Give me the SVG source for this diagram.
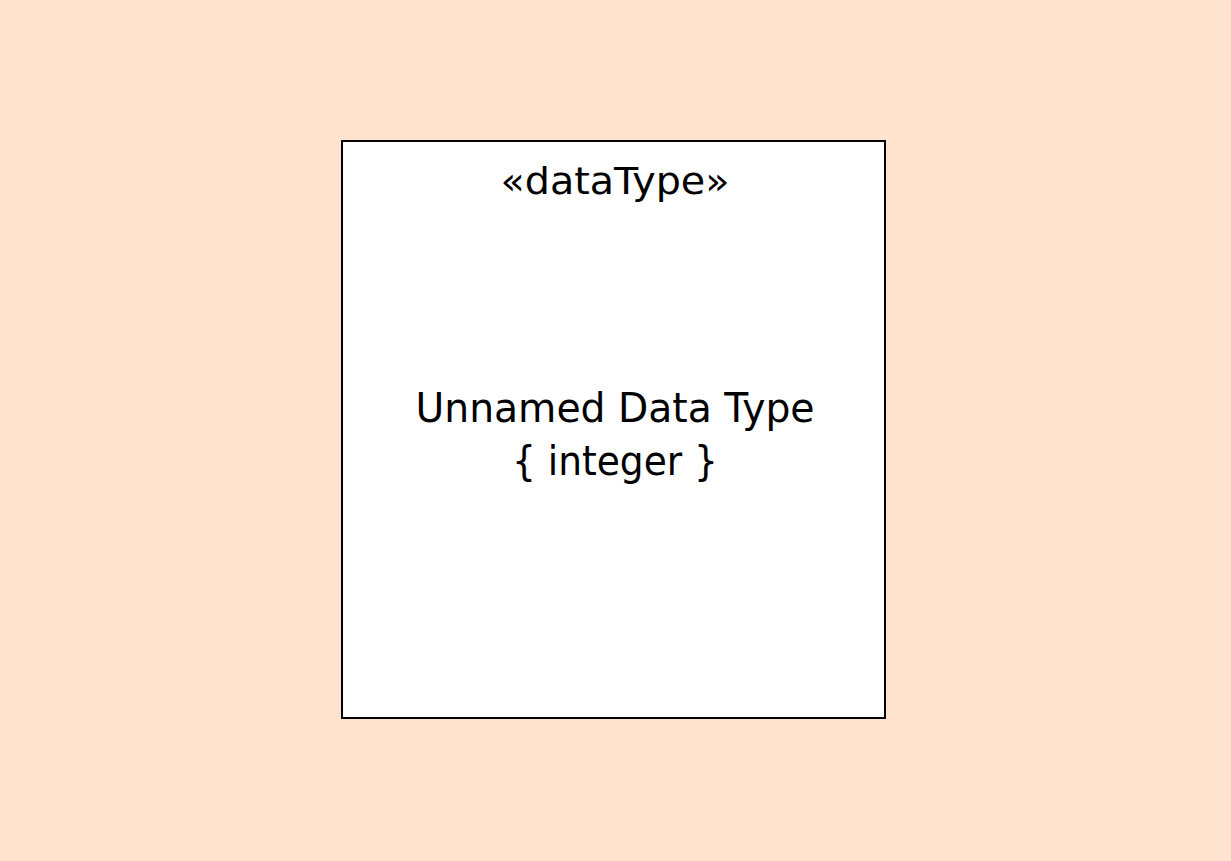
<svg xmlns="http://www.w3.org/2000/svg" width="1231" height="861" viewBox="0 0 1231 861">
<style>
.t{font-family:"DejaVu Sans","Liberation Sans",sans-serif;fill:#000;text-anchor:middle}
</style>
<rect x="0" y="0" width="1231" height="861" fill="#FEE3CE"/>
<g id="node-datatype">
<rect x="342" y="141" width="543" height="577" fill="#FFFFFF" stroke="#000" stroke-width="2"/>
<text class="t" x="615" y="194" font-size="38" textLength="229" lengthAdjust="spacingAndGlyphs">«dataType»</text>
<text class="t" x="615" y="422" font-size="40" textLength="399" lengthAdjust="spacingAndGlyphs">Unnamed Data Type</text>
<text class="t" x="615" y="475" font-size="40" textLength="206" lengthAdjust="spacingAndGlyphs">{ integer }</text>
</g>
<g id="connectors"/>
</svg>
